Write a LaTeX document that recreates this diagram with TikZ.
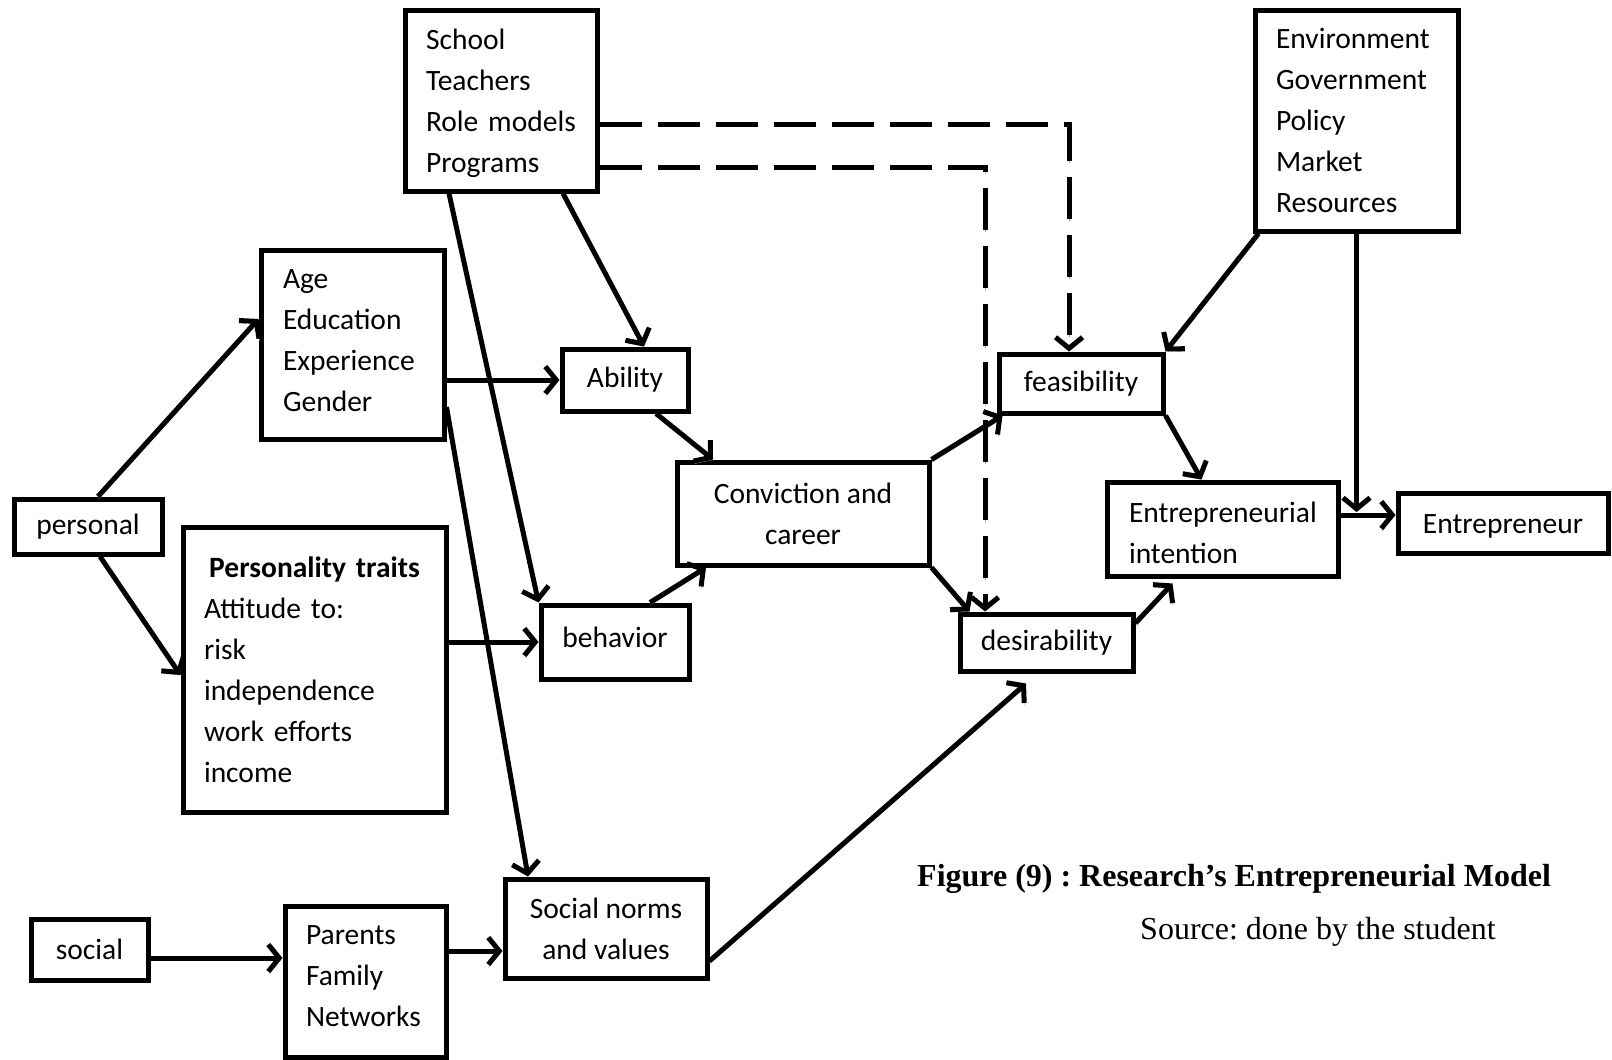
\documentclass[tikz,border=0pt]{standalone}
\usepackage{fontspec}
\setmainfont{Carlito}
\newfontfamily\capfont{Liberation Serif}
\usetikzlibrary{arrows.meta}
\frenchspacing

% raise (or lower) a block of lines without changing the box it takes up
\newcommand\liftlines[3]{\raisebox{#1}[\height][\depth]{\parbox{#2}{\raggedright #3}}}

\tikzset{
  box/.style={draw, line width=5pt, inner sep=0pt, align=center,
    font=\fontsize{29.5}{41}\selectfont},
  listbox/.style={box, align=left, inner xsep=21pt},
  tip/.style={-{Straight Barb[length=11pt,width=27pt]}},
  conn/.style={line width=5pt, tip,
    preaction={draw=black!38, transform canvas={shift={(0.6pt,-2.6pt)}}}},
  dashconn/.style={line width=5pt, tip, dash pattern=on 42pt off 16pt,
    preaction={draw=black!38, dash pattern=on 42pt off 16pt,
      transform canvas={shift={(0.6pt,-2.6pt)}}}},
}

\begin{document}
\begin{tikzpicture}[x=1pt, y=-1pt]
\useasboundingbox (0,0) rectangle (1612,1060);

% boxes
\node[listbox, minimum width=192pt, minimum height=181pt, text width=150pt]
  (school) at (501,100.5) {\liftlines{-3pt}{150pt}{School\\Teachers\\Role models\\Programs}};
\node[listbox, minimum width=203pt, minimum height=221pt, text width=161pt]
  (env) at (1356.5,120.5) {Environment\\Government\\Policy\\Market\\Resources};
\node[listbox, inner xsep=22pt, minimum width=183pt, minimum height=189pt, text width=139pt]
  (age) at (352.5,344.5) {\liftlines{4pt}{139pt}{Age\\Education\\Experience\\Gender}};
\node[box, minimum width=148pt, minimum height=55pt] (personal) at (88,526.5) {personal};
\node[listbox, minimum width=263pt, minimum height=285pt, text width=221pt]
  (traits) at (314.5,669.5)
  {\makebox[\linewidth]{\bfseries Personality traits}\\Attitude to:\\risk\\independence\\work efforts\\income};
\node[box, minimum width=126pt, minimum height=62pt] (ability) at (625,380) {Ability};
\node[box, minimum width=148pt, minimum height=74pt] (behavior) at (615,642)
  {\raisebox{5pt}[\height][\depth]{behavior}};
\node[box, minimum width=252pt, minimum height=103pt] (conv) at (803,513.5) {Conviction and\\career};
\node[box, minimum width=164pt, minimum height=59pt] (feas) at (1081,383.5) {feasibility};
\node[box, minimum width=173pt, minimum height=57pt] (desir) at (1046.5,642.5) {desirability};
\node[listbox, inner xsep=22pt, minimum width=231pt, minimum height=94pt, text width=187pt]
  (intent) at (1222.5,529) {\liftlines{-4pt}{187pt}{Entrepreneurial\\intention}};
\node[box, minimum width=210pt, minimum height=60pt] (entre) at (1503,523)
  {\raisebox{-3pt}[\height][\depth]{Entrepreneur}};
\node[box, minimum width=117pt, minimum height=61pt] (social) at (89.5,949.5) {social};
\node[listbox, minimum width=161pt, minimum height=151pt, text width=119pt]
  (parents) at (365.5,981.5) {\liftlines{5pt}{119pt}{Parents\\Family\\Networks}};
\node[box, minimum width=202pt, minimum height=99pt] (norms) at (606,928.5) {Social norms\\and values};

\coordinate (envtip) at (1356.5,512);

% solid connectors
\draw[conn] ([xshift=10pt]personal.north) -- ([yshift=25.5pt]age.west);
\draw[conn] ([xshift=12pt]personal.south) -- ([yshift=-5.5pt]traits.west);
\draw[conn] (ability.west -| age.east) -- (ability.west);
\draw[conn] ([yshift=-62.5pt]age.east) -- ([xshift=-78pt]norms.north);
\draw[conn] ([xshift=-52pt]school.south) -- (behavior.north west);
\draw[conn] ([xshift=62pt]school.south) -- ([xshift=19pt]ability.north);
\draw[conn] ([xshift=31pt]ability.south) -- ([xshift=-90pt]conv.north);
\draw[conn] ([xshift=35pt]behavior.north) -- ([xshift=-97pt]conv.south);
\draw[conn] (behavior.west -| traits.east) -- (behavior.west);
\draw[conn] (conv.north east) -- ([xshift=6pt]feas.south west);
\draw[conn] (conv.south east) -- ([xshift=12pt]desir.north west);
\draw[conn] ([xshift=6pt]env.south west) -- (feas.north east);
\draw[conn] (env.south) -- (envtip);
\draw[conn] ([yshift=14pt]intent.east) -- ([yshift=8pt]entre.west);
\draw[conn] (feas.south east) -- ([xshift=-21pt]intent.north);
\draw[conn] ([yshift=19.5pt]desir.east) -- ([xshift=-50pt,yshift=-5pt]intent.south);
\draw[conn] ([yshift=-8.5pt]social.east) -- ([yshift=23.5pt]parents.west);
\draw[conn] ([yshift=30.5pt]parents.east) -- ([yshift=-22.5pt]norms.west);
\draw[conn] ([yshift=-32.5pt]norms.east) -- ([xshift=-20.5pt,yshift=-10pt]desir.south);

% dashed connectors from the school box
\draw[dashconn] ([yshift=-23.5pt]school.east) -| ([xshift=-12pt]feas.north);
\draw[dashconn] ([yshift=-66.5pt]school.east) -| ([xshift=-61.5pt]desir.north);

% caption
\node[anchor=west, inner sep=0pt, font=\capfont\bfseries\fontsize{32}{38}\selectfont]
  (cap) at (917,879) {Figure (9) : Research’s Entrepreneurial Model};
\node[anchor=west, inner sep=0pt, font=\capfont\fontsize{32}{38}\selectfont]
  (src) at (1140,932) {Source: done by the student};
\end{tikzpicture}
\end{document}
